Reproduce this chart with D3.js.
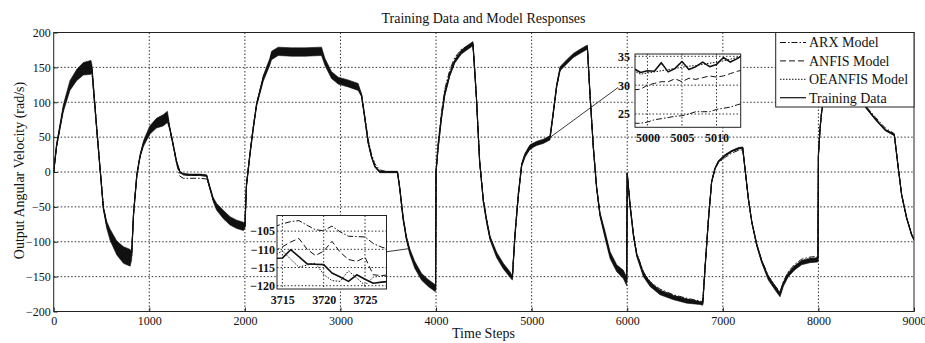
<!DOCTYPE html>
<html>
<head>
  <meta charset="utf-8">
  <style>
    body { margin: 0; background: #fff; }
    svg { font-family: "Liberation Serif", "Times New Roman", serif; }
    .grid line { stroke: #333; stroke-dasharray: 1.5,2; stroke-width: 1; }
    .axis path { display: none; }
    .axis line { stroke: #222; }
    .axis text { fill: #111; font-size: 12px; font-family: "Liberation Serif", "Times New Roman", serif; }
    .inset .axis text { font-weight: bold; }
  </style>
  <script src="https://d3js.org/d3.v7.min.js"></script>
</head>
<body>
<script>
// ---- data ----
var steps = [
  0,30,100,170,240,310,390,400,450,485,
  520,555,590,660,730,800,815,835,870,905,
  940,1005,1075,1145,1190,1215,1250,1285,1320,1355,
  1425,1530,1600,1635,1670,1705,1775,1845,1915,1985,
  2000,2017,2052,2087,2122,2192,2261,2279,2349,2488,
  2628,2802,2837,2906,2976,3080,3185,3220,3255,3289,
  3324,3359,3411,3498,3596,3620,3655,3690,3725,3777,
  3847,3917,3986,3995,4000,4021,4056,4090,4143,4195,
  4265,4334,4386,4421,4456,4495,4530,4565,4634,4704,
  4774,4798,4826,4861,4896,4931,4983,5053,5123,5192,
  5227,5262,5297,5367,5436,5506,5583,5611,5646,5680,
  5715,5768,5820,5890,5960,5994,6000,6029,6064,6099,
  6169,6238,6343,6483,6622,6762,6790,6814,6848,6883,
  6918,6953,7023,7093,7162,7208,7232,7267,7302,7354,
  7406,7476,7546,7598,7633,7685,7755,7825,7912,7995,
  8000,8017,8034,8069,8120,8200,8300,8400,8500,8600,
  8700,8794,8836,8871,8923,8975,9000
];

var training = [
  0,38,91,124,139,148,150,148,62,5,
  -52,-76,-90,-109,-119,-123,-120,-61,-4,24,
  41,60,70,74,79,62,39,15,0,-3,
  -4,-4,-5,-23,-40,-50,-61,-70,-75,-78,
  -78,-19,24,62,96,134,158,167,173,172,
  172,173,158,139,131,127,122,110,77,43,
  22,8,0,0,0,-23,-66,-95,-114,-133,
  -150,-159,-166,-168,0,34,77,110,139,158,
  172,179,184,110,15,-42,-71,-95,-119,-135,
  -147,-152,-90,-33,10,24,36,41,44,49,
  86,124,148,158,167,173,179,110,34,-23,
  -61,-90,-119,-138,-147,-157,-2,-47,-90,-119,
  -147,-161,-173,-180,-185,-188,-189,-138,-71,-14,
  5,15,24,30,34,35,5,-38,-71,-104,
  -128,-152,-166,-176,-161,-147,-137,-130,-127,-126,
  24,62,86,115,140,150,140,115,92,75,
  60,53,5,-33,-66,-90,-97
];

// half-width of the measurement noise band around the training data
var trainingNoise = [
  1,2,5,7,8,9,10,6,2,2,
  2,5,8,10,12,12,6,2,2,2,
  4,6,7,8,8,2,2,1,1,1,
  1,1,1,2,3,5,6,6,6,6,
  3,2,2,2,2,4,5,6,6,6,
  6,6,5,5,5,5,5,2,2,2,
  1,1,1,1,1,2,3,3,4,5,
  5,5,5,3,1,1,1,1,2,2,
  3,3,3,2,2,2,3,3,4,4,
  4,3,2,2,2,3,3,3,3,3,
  2,2,3,3,3,3,3,2,2,2,
  3,5,5,5,6,6,1,2,2,2,
  3,3,3,3,3,2,2,1,1,1,
  1,1,1,1,1,1,1,1,1,2,
  2,3,3,3,3,3,3,3,3,3,
  1,1,1,1,1,1,1,1,1,1,
  1,1,1,1,1,1,1
];

var arx = [
  0,36,90,124,140,149,150,146,64,6,
  -50,-75,-90,-108,-118,-122,-119,-60,-4,24,
  41,60,70,75,78,62,38,12,-6,-9,
  -9,-9,-10,-24,-40,-50,-61,-70,-75,-78,
  -78,-18,26,64,98,136,160,168,173,172,
  172,172,158,140,131,127,122,112,80,47,
  26,12,3,0,0,-22,-64,-94,-113,-132,
  -149,-158,-165,-167,2,40,84,118,146,164,
  176,181,184,110,16,-40,-69,-94,-118,-134,
  -146,-151,-88,-30,12,26,38,42,45,49,
  84,122,146,157,166,172,178,110,35,-22,
  -60,-89,-118,-137,-146,-155,-2,-46,-88,-116,
  -143,-157,-168,-176,-181,-185,-186,-136,-70,-14,
  4,13,21,27,31,32,4,-38,-71,-103,
  -126,-149,-163,-172,-157,-143,-132,-125,-122,-121,
  24,63,88,117,141,150,140,116,94,78,
  63,55,6,-32,-65,-89,-96
];

var anfis = [
  0,37,91,124,139,148,150,146,63,5,
  -51,-76,-90,-108,-119,-123,-120,-61,-4,24,
  41,60,70,74,78,62,39,14,-1,-4,
  -5,-5,-6,-23,-40,-50,-61,-70,-75,-78,
  -78,-19,25,63,97,135,159,167,173,172,
  172,173,158,139,131,127,122,110,78,44,
  23,9,1,0,0,-23,-66,-95,-114,-133,
  -150,-159,-166,-168,1,38,82,115,143,161,
  174,180,184,110,15,-41,-70,-95,-119,-135,
  -147,-152,-89,-32,11,25,33,41,44,49,
  85,123,147,158,167,173,179,110,34,-23,
  -61,-90,-119,-138,-147,-156,-2,-47,-89,-118,
  -145,-159,-170,-178,-183,-186,-187,-137,-71,-14,
  5,14,23,29,33,34,5,-38,-71,-104,
  -128,-151,-165,-175,-160,-146,-135,-128,-125,-124,
  24,62,87,116,140,150,140,115,93,76,
  61,54,5,-33,-66,-90,-97
];

var oeanfis = [
  0,38,91,124,139,148,150,146,62,5,
  -52,-76,-90,-109,-119,-123,-120,-61,-4,24,
  41,60,70,74,79,62,39,15,0,-3,
  -4,-4,-5,-23,-40,-50,-61,-70,-75,-78,
  -78,-19,24,62,96,134,158,167,173,172,
  172,173,158,139,131,127,122,110,77,43,
  22,8,0,0,0,-23,-66,-95,-114,-133,
  -150,-159,-166,-168,0,36,80,113,142,160,
  173,180,184,110,15,-42,-71,-95,-119,-135,
  -147,-152,-90,-33,10,24,32,41,44,49,
  86,124,148,158,167,173,179,110,34,-23,
  -61,-90,-119,-138,-147,-157,-2,-47,-89,-117,
  -144,-158,-169,-177,-182,-186,-187,-138,-71,-14,
  5,15,24,30,34,35,5,-38,-71,-104,
  -127,-150,-164,-174,-159,-145,-134,-127,-124,-123,
  24,62,86,115,140,150,140,115,92,75,
  60,53,5,-33,-66,-90,-97
];

var xTicks = [0,1000,2000,3000,4000,5000,6000,7000,8000,9000];
var yTicks = [-200,-150,-100,-50,0,50,100,150,200];

// zoom 1: steps 3714..3728
var zoom1Steps = [3714,3715,3716,3717,3718,3719,3720,3721,3722,3723,3724,3725,3726,3727,3728];
var zoom1Training = [-112.5,-112.4,-110.1,-112,-114,-114.1,-114.2,-116.5,-117.6,-118.8,-117,-118.2,-119.3,-119,-118.8];
var zoom1Arx = [-103.8,-103,-102.4,-102.1,-103.4,-104.6,-104.9,-103.6,-105.2,-106.4,-106.5,-106.6,-108.4,-109.4,-110];
var zoom1Anfis = [-110.5,-109.3,-108,-107,-110,-111.7,-110.5,-107.8,-110.8,-112.8,-113.3,-112.2,-117,-117.2,-117];
var zoom1Oeanfis = [-111.8,-110.4,-112.7,-114.9,-114.3,-113.8,-116.9,-118.6,-118.8,-115.9,-117.9,-119.9,-117.6,-117.4,-117.4];
var zoom1XTicks = [3715,3720,3725];
var zoom1YTicks = [-105,-110,-115,-120];

// zoom 2: steps 4998..5014
var zoom2Steps = [4998,4999,5000,5001,5002,5003,5004,5005,5006,5007,5008,5009,5010,5011,5012,5013,5014];
var zoom2Training = [32.9,32.2,32.5,32.4,33.9,32.3,32.9,34.1,32.7,33.2,34.0,33.2,33.6,34.8,34.0,34.6,35.4];
var zoom2Arx = [23.4,23.4,23.6,24.0,24.2,24.4,24.6,24.7,25.0,25.4,25.4,25.4,25.8,26.0,26.2,26.6,26.9];
var zoom2Anfis = [29.2,29.3,30.0,30.3,30.6,30.6,31.1,30.6,31.2,31.0,31.3,31.6,31.4,31.6,32.0,32.4,32.7];
var zoom2Oeanfis = [32.5,31.9,32.1,32.3,32.5,32.7,32.9,33.1,33.3,33.4,33.6,33.8,34.0,34.2,34.5,34.8,35.2];
var zoom2XTicks = [5000,5005,5010];
var zoom2YTicks = [25,30,35];

var legendLabels = ["ARX Model", "ANFIS Model", "OEANFIS Model", "Training Data"];

// ---- layout ----
var width = 925, height = 343;
var plotLeft = 53.7, plotRight = 914, plotTop = 32.5, plotBottom = 311.5;

var styles = {
  arx: { dash: "6,2,1.5,2", width: 1 },
  anfis: { dash: "6,3", width: 1 },
  oeanfis: { dash: "1.5,1.5", width: 1 },
  training: { dash: null, width: 1.2 }
};

var svg = d3.select("body").append("svg")
  .attr("width", width)
  .attr("height", height);

var x = d3.scaleLinear().domain([0, 9000]).range([plotLeft, plotRight]);
var y = d3.scaleLinear().domain([-200, 200]).range([plotBottom, plotTop]);

// grid
var grid = svg.append("g").attr("class", "grid");
grid.selectAll(".gx").data(xTicks.slice(1, -1)).enter().append("line")
  .attr("x1", function(d) { return x(d); }).attr("x2", function(d) { return x(d); })
  .attr("y1", plotTop).attr("y2", plotBottom);
grid.selectAll(".gy").data(yTicks.slice(1, -1)).enter().append("line")
  .attr("x1", plotLeft).attr("x2", plotRight)
  .attr("y1", function(d) { return y(d); }).attr("y2", function(d) { return y(d); });

svg.append("g").attr("class", "axis")
  .attr("transform", "translate(0," + plotBottom + ")")
  .call(d3.axisBottom(x).tickValues(xTicks).tickSize(-4).tickPadding(5).tickFormat(d3.format("d")));
svg.append("g").attr("class", "axis")
  .attr("transform", "translate(" + plotLeft + ",0)")
  .call(d3.axisLeft(y).tickValues(yTicks).tickSize(-4).tickPadding(3).tickFormat(d3.format("d")));

function drawSeries(g, xs, ys, xScale, yScale, st, clipId) {
  var pts = xs.map(function(t, i) { return [t, ys[i]]; });
  var line = d3.line()
    .x(function(d) { return xScale(d[0]); })
    .y(function(d) { return yScale(d[1]); });
  var p = g.append("path")
    .datum(pts)
    .attr("d", line)
    .attr("fill", "none")
    .attr("stroke", "#111")
    .attr("stroke-width", st.width)
    .attr("stroke-linejoin", "round");
  if (st.dash) p.attr("stroke-dasharray", st.dash);
  if (clipId) p.attr("clip-path", "url(#" + clipId + ")");
  return p;
}

svg.append("clipPath").attr("id", "mainClip").append("rect")
  .attr("x", plotLeft).attr("y", plotTop).attr("width", plotRight - plotLeft).attr("height", plotBottom - plotTop);

var plot = svg.append("g").attr("clip-path", "url(#mainClip)");
drawSeries(plot, steps, arx, x, y, styles.arx);
drawSeries(plot, steps, anfis, x, y, styles.anfis);
drawSeries(plot, steps, oeanfis, x, y, styles.oeanfis);

// noisy band of training data
var band = d3.area()
  .x(function(d, i) { return x(steps[i]); })
  .y0(function(d, i) { return y(training[i] - trainingNoise[i]); })
  .y1(function(d, i) { return y(training[i] + trainingNoise[i]); });
plot.append("path")
  .datum(training)
  .attr("d", band)
  .attr("fill", "#111")
  .attr("stroke", "#111")
  .attr("stroke-width", 0.6);
drawSeries(plot, steps, training, x, y, styles.training);

svg.append("rect")
  .attr("x", plotLeft).attr("y", plotTop)
  .attr("width", plotRight - plotLeft).attr("height", plotBottom - plotTop)
  .attr("fill", "none").attr("stroke", "#222").attr("stroke-width", 1);

// ---- zoomed insets ----
function drawInset(opt) {
  var g = svg.append("g").attr("class", "inset");
  var ix = d3.scaleLinear().domain(opt.xDomain).range([opt.x0, opt.x1]);
  var iy = d3.scaleLinear().domain(opt.yDomain).range([opt.y1, opt.y0]);

  // connector from the main curve to the inset
  g.append("line")
    .attr("x1", x(opt.link[0][0])).attr("y1", y(opt.link[0][1]))
    .attr("x2", x(opt.link[1][0])).attr("y2", y(opt.link[1][1]))
    .attr("stroke", "#222").attr("stroke-width", 0.9);

  g.append("rect")
    .attr("x", opt.x0).attr("y", opt.y0)
    .attr("width", opt.x1 - opt.x0).attr("height", opt.y1 - opt.y0)
    .attr("fill", "#fff");

  var gg = g.append("g").attr("class", "grid");
  gg.selectAll(".vx").data(opt.xTicks).enter().append("line")
    .attr("x1", function(d) { return ix(d); }).attr("x2", function(d) { return ix(d); })
    .attr("y1", opt.y0).attr("y2", opt.y1);
  gg.selectAll(".vy").data(opt.yTicks).enter().append("line")
    .attr("x1", opt.x0).attr("x2", opt.x1)
    .attr("y1", function(d) { return iy(d); }).attr("y2", function(d) { return iy(d); });

  g.append("clipPath").attr("id", opt.id).append("rect")
    .attr("x", opt.x0).attr("y", opt.y0)
    .attr("width", opt.x1 - opt.x0).attr("height", opt.y1 - opt.y0);

  drawSeries(g, opt.steps, opt.arx, ix, iy, styles.arx, opt.id);
  drawSeries(g, opt.steps, opt.anfis, ix, iy, styles.anfis, opt.id);
  drawSeries(g, opt.steps, opt.oeanfis, ix, iy, styles.oeanfis, opt.id);
  drawSeries(g, opt.steps, opt.training, ix, iy, { dash: null, width: 1.6 }, opt.id);

  g.append("rect")
    .attr("x", opt.x0).attr("y", opt.y0)
    .attr("width", opt.x1 - opt.x0).attr("height", opt.y1 - opt.y0)
    .attr("fill", "none").attr("stroke", "#222").attr("stroke-width", 1);

  g.append("g").attr("class", "axis")
    .attr("transform", "translate(0," + opt.y1 + ")")
    .call(d3.axisBottom(ix).tickValues(opt.xTicks).tickSize(0).tickPadding(opt.xPad).tickFormat(d3.format("d")));
  g.append("g").attr("class", "axis")
    .attr("transform", "translate(" + opt.x0 + ",0)")
    .call(d3.axisLeft(iy).tickValues(opt.yTicks).tickSize(0).tickPadding(opt.yPad).tickFormat(d3.format("d")));
}

drawInset({
  id: "clipZoom1",
  x0: 277, x1: 386.5, y0: 215.5, y1: 289,
  xDomain: [3714.35, 3727.6], yDomain: [-120.9, -100.7],
  steps: zoom1Steps, training: zoom1Training, arx: zoom1Arx, anfis: zoom1Anfis, oeanfis: zoom1Oeanfis,
  xTicks: zoom1XTicks, yTicks: zoom1YTicks, xPad: 6, yPad: 2,
  link: [[3484, -114.3], [3710, -110]]
});

drawInset({
  id: "clipZoom2",
  x0: 635, x1: 740.7, y0: 54, y1: 127.3,
  xDomain: [4998.2, 5013.5], yDomain: [22.7, 35.4],
  steps: zoom2Steps, training: zoom2Training, arx: zoom2Arx, anfis: zoom2Anfis, oeanfis: zoom2Oeanfis,
  xTicks: zoom2XTicks, yTicks: zoom2YTicks, xPad: 6, yPad: 5,
  link: [[5187, 49], [5903, 121]]
});

// ---- legend ----
var legendKeys = ["arx", "anfis", "oeanfis", "training"];
var lg = svg.append("g");
lg.append("rect")
  .attr("x", 775.7).attr("y", plotTop)
  .attr("width", plotRight - 775.7).attr("height", 107 - plotTop)
  .attr("fill", "#fff").attr("stroke", "#222").attr("stroke-width", 1);
var row = lg.selectAll(".row").data(legendLabels).enter().append("g")
  .attr("transform", function(d, i) { return "translate(0," + (42.5 + i * 18.4) + ")"; });
row.append("line")
  .attr("x1", 780).attr("x2", 806).attr("y1", 0).attr("y2", 0)
  .attr("stroke", "#111")
  .attr("stroke-width", function(d, i) { return styles[legendKeys[i]].width; })
  .attr("stroke-dasharray", function(d, i) { return styles[legendKeys[i]].dash; });
row.append("text")
  .attr("x", 809).attr("y", 4.8)
  .attr("font-size", "14px").attr("fill", "#111")
  .text(function(d) { return d; });

// ---- titles ----
svg.append("text")
  .attr("x", 483.5).attr("y", 23)
  .attr("text-anchor", "middle").attr("font-size", "14px").attr("fill", "#111")
  .text("Training Data and Model Responses");
svg.append("text")
  .attr("x", 483.5).attr("y", 338)
  .attr("text-anchor", "middle").attr("font-size", "14px").attr("fill", "#111")
  .text("Time Steps");
svg.append("text")
  .attr("transform", "translate(24,170.5) rotate(-90)")
  .attr("text-anchor", "middle").attr("font-size", "14px").attr("fill", "#111")
  .text("Output Angular Velocity (rad/s)");
</script>
</body>
</html>
